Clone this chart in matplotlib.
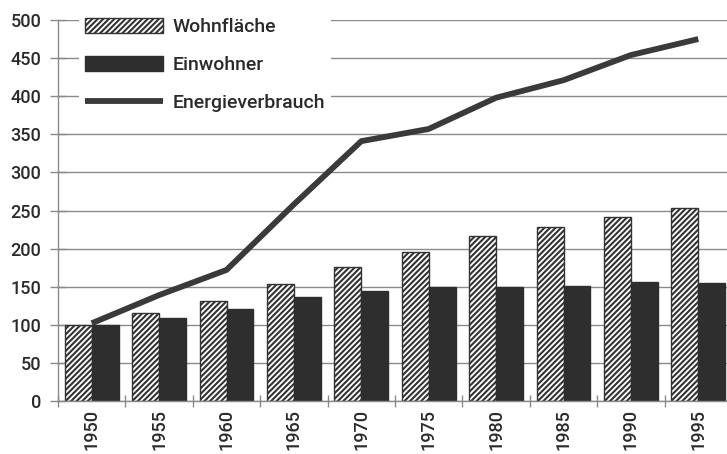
import matplotlib
matplotlib.use('Agg')
import matplotlib.pyplot as plt
import numpy as np

# Daten (Index 1950 = 100)
jahre = ['1950', '1955', '1960', '1965', '1970', '1975', '1980', '1985', '1990', '1995']
wohnflaeche = [100, 116, 131, 154, 176, 196, 216, 229, 241, 253]
einwohner = [100, 109, 121, 136, 145, 149, 149, 151, 156, 155]
energie = [102, 139, 172, 258, 341, 357, 398, 421, 454, 475]

plt.rcParams['font.family'] = ['Roboto', 'DejaVu Sans']
plt.rcParams['font.weight'] = 'medium'
plt.rcParams['hatch.linewidth'] = 1.5
plt.rcParams['hatch.color'] = '#333333'

dunkel = '#2e2e2e'
grau = '#8a8a8a'
textfarbe = '#2a2a2a'

fig = plt.figure(figsize=(7.27, 4.54), dpi=100)
ax = fig.add_axes([58 / 727, 53 / 454, 669 / 727, 381 / 454])

x = np.arange(len(jahre))
breite = 0.4

b1 = ax.bar(x - breite / 2, wohnflaeche, breite, color='white', edgecolor='#333333',
            hatch='//////', linewidth=1.0, zorder=2, label='Wohnfläche')
b2 = ax.bar(x + breite / 2, einwohner, breite, color=dunkel, edgecolor=dunkel,
            linewidth=1.0, zorder=2, label='Einwohner')
l1, = ax.plot(x, energie, color='#3a3a3a', linewidth=4.2, solid_joinstyle='round',
              solid_capstyle='butt', zorder=3, label='Energieverbrauch')

# Achsen
ax.set_ylim(0, 500)
ax.set_xlim(-0.5, -0.5 + 669 / 67.4)
ax.set_yticks(range(0, 501, 50))
ax.yaxis.grid(True, color=grau, linewidth=1.0)
ax.set_axisbelow(True)

ax.set_xticks(x - 0.5)
ax.set_xticklabels([])
ax.set_xticks(x, minor=True)
ax.set_xticklabels(jahre, minor=True, rotation=90)

ax.tick_params(axis='y', direction='inout', length=12, width=1.0, color=grau,
               labelsize=13, labelcolor=textfarbe, pad=6)
ax.tick_params(axis='x', which='major', direction='inout', length=8, width=1.0, color=grau)
ax.tick_params(axis='x', which='minor', length=0, labelsize=13, labelcolor=textfarbe, pad=6)

for s in ['top', 'right']:
    ax.spines[s].set_visible(False)
for s in ['left', 'bottom']:
    ax.spines[s].set_color(grau)
    ax.spines[s].set_linewidth(1.0)

leg = ax.legend(handles=[b1, b2, l1], loc='upper left',
                bbox_to_anchor=(79 / 727, 1 - 12 / 454),
                bbox_transform=fig.transFigure, frameon=True, fontsize=14,
                handlelength=4.0, handleheight=0.85, labelspacing=1.0,
                borderpad=0.3, borderaxespad=0, handletextpad=0.5, fancybox=False)
leg.get_frame().set_facecolor('white')
leg.get_frame().set_edgecolor('none')
leg.get_frame().set_alpha(1)
for t in leg.get_texts():
    t.set_color(textfarbe)

plt.savefig('out.png', dpi=100)
